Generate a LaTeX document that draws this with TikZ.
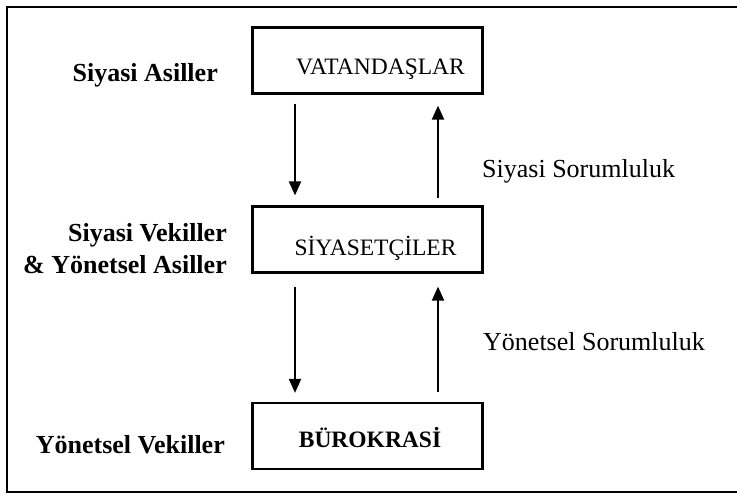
\documentclass[tikz,border=0pt]{standalone}
\usepackage{fontspec}
\setmainfont{Liberation Serif}
\usepackage{tikz}
\usetikzlibrary{positioning, arrows.meta}
\tikzset{
  katman/.style={draw, line width=2.2pt, minimum width=230pt, minimum height=66pt, inner sep=0pt, text depth=0pt, font=\fontsize{23.5}{26}\selectfont},
  rol/.style={font=\fontsize{26}{32}\selectfont\bfseries, align=right, inner sep=0pt},
  hesap/.style={font=\fontsize{26}{30}\selectfont, inner sep=0pt, anchor=base west},
  akis/.style={line width=2pt, -{Triangle[width=12pt,length=14pt]}}
}

\begin{document}
\begin{tikzpicture}[x=1pt,y=-1pt]
\useasboundingbox (0,0) rectangle (737,500);
\draw[line width=2.2pt] (737,7) -- (7,7) -- (7,492) -- (737,492); % outer frame
% boxes
\node[katman, text height=29pt] (vat) at (367.5,60.5) {\hspace*{26pt}VATANDAŞLAR};
\node[katman, text height=31pt] (siy) at (367.5,239.5) {\hspace*{16pt}SİYASETÇİLER};
\node[katman, text height=22pt] (bur) at (367.5,436) {\hspace*{5pt}\textbf{BÜROKRASİ}};
% left labels
\node[rol, anchor=base east] (asil) at (218,82) {Siyasi Asiller};
\node[rol, anchor=east] (vekil) at (227,249) {Siyasi Vekiller\\\& Yönetsel Asiller};
\node[rol, anchor=base east] (ybur) at (225,453) {Yönetsel Vekiller};
% right labels
\node[hesap] (ssor) at (482,178) {Siyasi Sorumluluk};
\node[hesap] (ysor) at (483,350) {Yönetsel Sorumluluk};
% arrows
\draw[akis, shorten <=9pt, shorten >=10pt] ([xshift=-72.5pt]vat.south) -- ([xshift=-72.5pt]siy.north);
\draw[akis, shorten <=7pt, shorten >=11pt] ([xshift=70.5pt]siy.north) -- ([xshift=70.5pt]vat.south);
\draw[akis, shorten <=13pt, shorten >=9pt] ([xshift=-72.5pt]siy.south) -- ([xshift=-72.5pt]bur.north);
\draw[akis, shorten <=10pt, shorten >=13pt] ([xshift=70.5pt]bur.north) -- ([xshift=70.5pt]siy.south);
\end{tikzpicture}
\end{document}
